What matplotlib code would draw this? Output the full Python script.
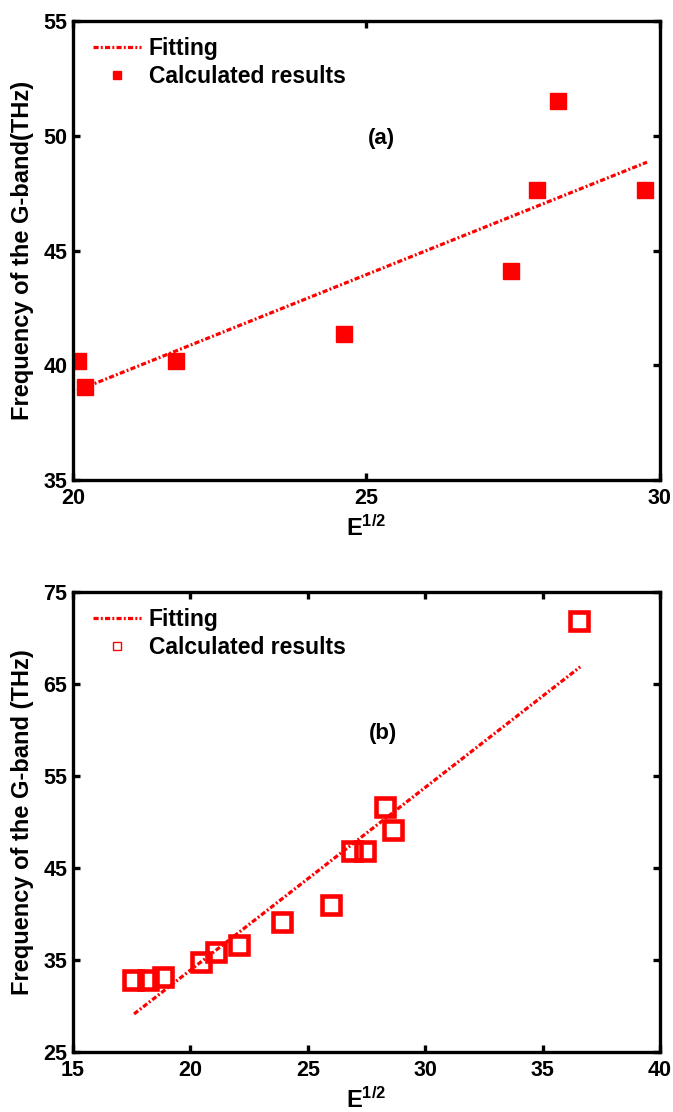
import matplotlib
matplotlib.use('Agg')
import matplotlib.pyplot as plt

plt.rcParams['font.family'] = ['Liberation Sans', 'DejaVu Sans']
plt.rcParams['font.weight'] = 'bold'
plt.rcParams['mathtext.fontset'] = 'custom'
plt.rcParams['mathtext.rm'] = 'Liberation Sans:bold'
plt.rcParams['mathtext.bf'] = 'Liberation Sans:bold'
plt.rcParams['mathtext.it'] = 'Liberation Sans:bold'

# panel (a)
xa = [20.09, 20.2, 21.75, 24.62, 27.46, 27.9, 28.26, 29.74]
ya = [40.2, 39.06, 40.2, 41.38, 44.1, 47.64, 51.53, 47.64]
fit_xa = [20.07, 29.78]
fit_ya = [38.9, 48.85]

# panel (b)
xb = [17.56, 18.2, 18.85, 20.44, 21.08, 22.05, 23.92, 25.99, 26.87, 27.45, 28.28, 28.64, 36.56]
yb = [32.84, 32.84, 33.2, 34.75, 35.9, 36.66, 39.07, 40.98, 46.79, 46.79, 51.57, 49.16, 71.83]
fit_xb = [17.6, 36.61]
fit_yb = [29.13, 66.86]

red = '#ff0000'
fit_ls = (0, (1.6, 0.7, 0.6, 0.7))

fig = plt.figure(figsize=(6.73, 11.12), dpi=100)
ax1 = fig.add_axes([0.1085, 0.5683, 0.872, 0.4128])
ax2 = fig.add_axes([0.1085, 0.054, 0.872, 0.4137])


def style(ax):
    for s in ax.spines.values():
        s.set_linewidth(2.4)
    ax.tick_params(direction='in', top=True, right=True, width=2.4, length=5,
                   labelsize=15.5)
    ax.tick_params(axis='x', pad=6)
    ax.tick_params(axis='y', pad=4)
    for lab in ax.get_xticklabels() + ax.get_yticklabels():
        lab.set_fontweight('bold')
    ax.yaxis.set_label_coords(-0.066, 0.5)
    ax.xaxis.set_label_coords(0.5, -0.076)


ax1.plot(fit_xa, fit_ya, linestyle=fit_ls, color=red, lw=2.3, label='Fitting')
ax1.plot(xa, ya, 's', color=red, ms=11, linestyle='none', label='Calculated results')
ax1.set_xlim(20, 30)
ax1.set_ylim(35, 55)
ax1.set_xticks([20, 25, 30])
ax1.set_yticks([35, 40, 45, 50, 55])
ax1.text(25.25, 49.9, '(a)', fontsize=16, fontweight='bold', ha='center', va='center')
ax1.set_xlabel(r'E$^{\mathbf{1/2}}$', fontsize=17, fontweight='bold')
ax1.set_ylabel('Frequency of the G-band(THz)', fontsize=17, fontweight='bold')
ax1.legend(loc='upper left', frameon=False, fontsize=16.5, markerscale=0.47,
           handlelength=2.1, handletextpad=0.35, borderaxespad=0.5,
           borderpad=0.2, labelspacing=0.2, bbox_to_anchor=(0.006, 1.0))
style(ax1)

ax2.plot(fit_xb, fit_yb, linestyle=fit_ls, color=red, lw=2.3, label='Fitting')
ax2.plot(xb, yb, 's', mfc='none', mec=red, mew=3.3, ms=13, linestyle='none',
         label='Calculated results')
ax2.set_xlim(15, 40)
ax2.set_ylim(25, 75)
ax2.set_xticks([15, 20, 25, 30, 35, 40])
ax2.set_yticks([25, 35, 45, 55, 65, 75])
ax2.text(28.2, 59.6, '(b)', fontsize=16, fontweight='bold', ha='center', va='center')
ax2.set_xlabel(r'E$^{\mathbf{1/2}}$', fontsize=17, fontweight='bold')
ax2.set_ylabel('Frequency of the G-band (THz)', fontsize=17, fontweight='bold')
leg = ax2.legend(loc='upper left', frameon=False, fontsize=16.5, markerscale=0.45,
                 handlelength=2.1, handletextpad=0.35, borderaxespad=0.5,
                 borderpad=0.2, labelspacing=0.2, bbox_to_anchor=(0.006, 1.0))
for h in leg.legend_handles[1:]:
    h.set_markeredgewidth(1.0)
style(ax2)

fig.savefig('out.png', dpi=100)
